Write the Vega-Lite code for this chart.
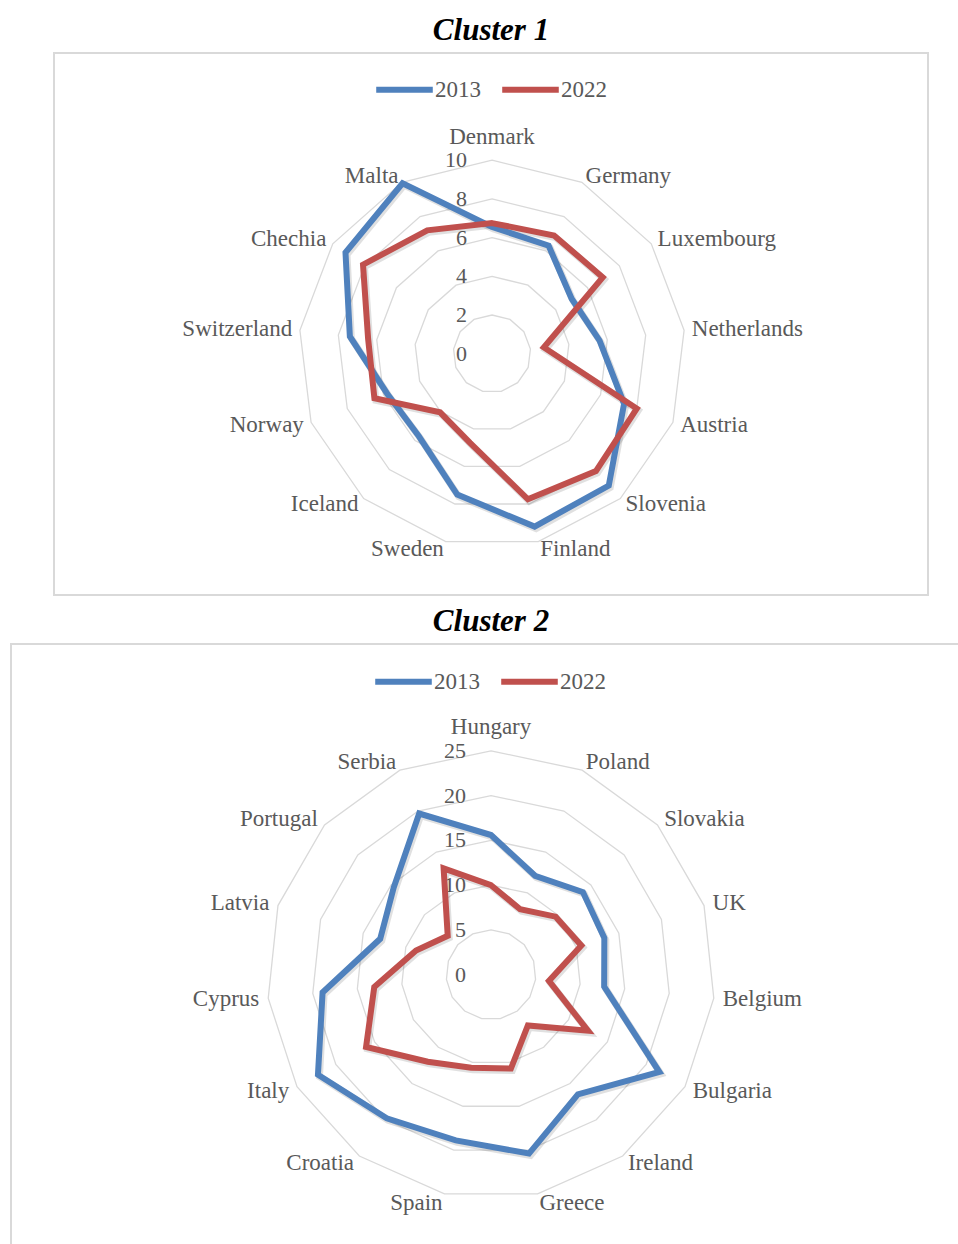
{
  "$schema": "https://vega.github.io/schema/vega-lite/v6.json",
  "padding": {"left": 10, "top": 14, "right": 0, "bottom": 0},
  "background": "white",
  "center": true,
  "spacing": 9,
  "datasets": {
    "c1": [
      {"c": "Denmark", "i": 0, "year": "2013", "v": 6.55},
      {"c": "Germany", "i": 1, "year": "2013", "v": 6.3},
      {"c": "Luxembourg", "i": 2, "year": "2013", "v": 5.0},
      {"c": "Netherlands", "i": 3, "year": "2013", "v": 5.6},
      {"c": "Austria", "i": 4, "year": "2013", "v": 7.3},
      {"c": "Slovenia", "i": 5, "year": "2013", "v": 9.1},
      {"c": "Finland", "i": 6, "year": "2013", "v": 9.2},
      {"c": "Sweden", "i": 7, "year": "2013", "v": 7.5},
      {"c": "Iceland", "i": 8, "year": "2013", "v": 5.7},
      {"c": "Norway", "i": 9, "year": "2013", "v": 5.8},
      {"c": "Switzerland", "i": 10, "year": "2013", "v": 7.4},
      {"c": "Chechia", "i": 11, "year": "2013", "v": 9.2},
      {"c": "Malta", "i": 12, "year": "2013", "v": 9.95},
      {"c": "Denmark", "i": 0, "year": "2022", "v": 6.75},
      {"c": "Germany", "i": 1, "year": "2022", "v": 6.9},
      {"c": "Luxembourg", "i": 2, "year": "2022", "v": 6.95},
      {"c": "Netherlands", "i": 3, "year": "2022", "v": 2.7},
      {"c": "Austria", "i": 4, "year": "2022", "v": 8.0},
      {"c": "Slovenia", "i": 5, "year": "2022", "v": 8.1},
      {"c": "Finland", "i": 6, "year": "2022", "v": 7.75},
      {"c": "Sweden", "i": 7, "year": "2022", "v": 4.75},
      {"c": "Iceland", "i": 8, "year": "2022", "v": 4.05},
      {"c": "Norway", "i": 9, "year": "2022", "v": 6.5},
      {"c": "Switzerland", "i": 10, "year": "2022", "v": 6.45},
      {"c": "Chechia", "i": 11, "year": "2022", "v": 8.1},
      {"c": "Malta", "i": 12, "year": "2022", "v": 7.2}
    ],
    "c2": [
      {"c": "Hungary", "i": 0, "year": "2013", "v": 15.6},
      {"c": "Poland", "i": 1, "year": "2013", "v": 12.1},
      {"c": "Slovakia", "i": 2, "year": "2013", "v": 13.8},
      {"c": "UK", "i": 3, "year": "2013", "v": 13.3},
      {"c": "Belgium", "i": 4, "year": "2013", "v": 12.7},
      {"c": "Bulgaria", "i": 5, "year": "2013", "v": 21.7},
      {"c": "Ireland", "i": 6, "year": "2013", "v": 16.5},
      {"c": "Greece", "i": 7, "year": "2013", "v": 20.4},
      {"c": "Spain", "i": 8, "year": "2013", "v": 18.9},
      {"c": "Croatia", "i": 9, "year": "2013", "v": 19.8},
      {"c": "Italy", "i": 10, "year": "2013", "v": 22.3},
      {"c": "Cyprus", "i": 11, "year": "2013", "v": 18.9},
      {"c": "Latvia", "i": 12, "year": "2013", "v": 13.0},
      {"c": "Portugal", "i": 13, "year": "2013", "v": 14.6},
      {"c": "Serbia", "i": 14, "year": "2013", "v": 19.7},
      {"c": "Hungary", "i": 0, "year": "2022", "v": 10.0},
      {"c": "Poland", "i": 1, "year": "2022", "v": 8.0},
      {"c": "Slovakia", "i": 2, "year": "2022", "v": 9.7},
      {"c": "UK", "i": 3, "year": "2022", "v": 10.6},
      {"c": "Belgium", "i": 4, "year": "2022", "v": 6.5},
      {"c": "Bulgaria", "i": 5, "year": "2022", "v": 12.5},
      {"c": "Ireland", "i": 6, "year": "2022", "v": 7.0},
      {"c": "Greece", "i": 7, "year": "2022", "v": 10.7},
      {"c": "Spain", "i": 8, "year": "2022", "v": 10.6},
      {"c": "Croatia", "i": 9, "year": "2022", "v": 12.0},
      {"c": "Italy", "i": 10, "year": "2022", "v": 16.1},
      {"c": "Cyprus", "i": 11, "year": "2022", "v": 13.1},
      {"c": "Latvia", "i": 12, "year": "2022", "v": 8.8},
      {"c": "Portugal", "i": 13, "year": "2022", "v": 6.5},
      {"c": "Serbia", "i": 14, "year": "2022", "v": 13.0}
    ]
  },
  "config": {
    "view": {"stroke": "#d9d9d9", "strokeWidth": 2},
    "title": {"font": "Liberation Serif", "fontSize": 31, "fontStyle": "italic", "fontWeight": "bold", "color": "#000000", "anchor": "middle", "offset": 6},
    "text": {"font": "Liberation Serif", "color": "#595959"},
    "legend": {
      "orient": "none", "direction": "horizontal", "title": null,
      "symbolType": "stroke", "symbolSize": 3200, "symbolStrokeWidth": 6,
      "labelFont": "Liberation Serif", "labelFontSize": 23, "labelColor": "#595959",
      "labelOffset": -1, "columnPadding": 9, "padding": 0
    }
  },
  "resolve": {
    "scale": {"x": "independent", "y": "independent", "color": "independent"},
    "legend": {"color": "independent"}
  },
  "vconcat": [
    {
      "width": 874,
      "height": 542,
      "title": {"text": "Cluster 1"},
      "layer": [
        {
          "data": {"name": "c1"},
          "transform": [
            {"filter": "datum.year == '2013'"},
            {"calculate": "datum.i * 2 * PI / 13", "as": "a"},
            {"calculate": "[2, 4, 6, 8, 10]", "as": "lv"},
            {"flatten": ["lv"]},
            {"calculate": "datum.lv * sin(datum.a)", "as": "gx"},
            {"calculate": "datum.lv * cos(datum.a)", "as": "gy"}
          ],
          "mark": {"type": "line", "interpolate": "linear-closed", "color": "#d9d9d9", "strokeWidth": 1.3},
          "encoding": {
            "x": {"field": "gx", "type": "quantitative", "scale": {"domain": [-22.636, 22.532], "nice": false, "zero": false}, "axis": null},
            "y": {"field": "gy", "type": "quantitative", "scale": {"domain": [-12.47, 15.54], "nice": false, "zero": false}, "axis": null},
            "detail": {"field": "lv", "type": "nominal"},
            "order": {"field": "i", "type": "quantitative"}
          }
        },
        {
          "data": {"values": [{"t": 0}, {"t": 2}, {"t": 4}, {"t": 6}, {"t": 8}, {"t": 10}]},
          "mark": {"type": "text", "align": "right", "baseline": "middle", "dx": -25, "fontSize": 22},
          "encoding": {
            "x": {"datum": 0, "type": "quantitative"},
            "y": {"field": "t", "type": "quantitative"},
            "text": {"field": "t", "type": "quantitative"}
          }
        },
        {
          "data": {"name": "c1"},
          "transform": [
            {"filter": "datum.year == '2013' && datum.i == 0"},
            {"calculate": "datum.i * 2 * PI / 13", "as": "a"},
            {"calculate": "10.4 * sin(datum.a)", "as": "lx"},
            {"calculate": "10.4 * cos(datum.a)", "as": "ly"}
          ],
          "mark": {"type": "text", "align": "center", "baseline": "middle", "dy": -15, "fontSize": 23},
          "encoding": {
            "x": {"field": "lx", "type": "quantitative"},
            "y": {"field": "ly", "type": "quantitative"},
            "text": {"field": "c", "type": "nominal"}
          }
        },
        {
          "data": {"name": "c1"},
          "transform": [
            {"filter": "datum.year == '2013' && datum.i > 0 && datum.i < 6.5"},
            {"calculate": "datum.i * 2 * PI / 13", "as": "a"},
            {"calculate": "10.4 * sin(datum.a)", "as": "lx"},
            {"calculate": "10.4 * cos(datum.a)", "as": "ly"}
          ],
          "mark": {"type": "text", "align": "left", "baseline": "middle", "fontSize": 23},
          "encoding": {
            "x": {"field": "lx", "type": "quantitative"},
            "y": {"field": "ly", "type": "quantitative"},
            "text": {"field": "c", "type": "nominal"}
          }
        },
        {
          "data": {"name": "c1"},
          "transform": [
            {"filter": "datum.year == '2013' && datum.i > 6.5"},
            {"calculate": "datum.i * 2 * PI / 13", "as": "a"},
            {"calculate": "10.4 * sin(datum.a)", "as": "lx"},
            {"calculate": "10.4 * cos(datum.a)", "as": "ly"}
          ],
          "mark": {"type": "text", "align": "right", "baseline": "middle", "fontSize": 23},
          "encoding": {
            "x": {"field": "lx", "type": "quantitative"},
            "y": {"field": "ly", "type": "quantitative"},
            "text": {"field": "c", "type": "nominal"}
          }
        },
        {
          "data": {"name": "c1"},
          "transform": [
            {"calculate": "datum.i * 2 * PI / 13", "as": "a"},
            {"calculate": "datum.v * sin(datum.a)", "as": "px"},
            {"calculate": "datum.v * cos(datum.a)", "as": "py"}
          ],
          "mark": {"type": "line", "interpolate": "linear-closed", "strokeWidth": 7, "color": "#000000", "opacity": 0.12, "xOffset": 1.5, "yOffset": 2},
          "encoding": {
            "x": {"field": "px", "type": "quantitative"},
            "y": {"field": "py", "type": "quantitative"},
            "detail": {"field": "year", "type": "nominal"},
            "order": {"field": "i", "type": "quantitative"}
          }
        },
        {
          "data": {"name": "c1"},
          "transform": [
            {"calculate": "datum.i * 2 * PI / 13", "as": "a"},
            {"calculate": "datum.v * sin(datum.a)", "as": "px"},
            {"calculate": "datum.v * cos(datum.a)", "as": "py"}
          ],
          "mark": {"type": "line", "interpolate": "linear-closed", "strokeWidth": 6, "strokeJoin": "miter"},
          "encoding": {
            "x": {"field": "px", "type": "quantitative"},
            "y": {"field": "py", "type": "quantitative"},
            "color": {
              "field": "year", "type": "nominal",
              "scale": {"domain": ["2013", "2022"], "range": ["#4F81BD", "#C0504D"]},
              "legend": {"legendX": 319, "legendY": 5, "labelFont": "Liberation Serif", "labelFontSize": 23}
            },
            "order": {"field": "i", "type": "quantitative"}
          }
        }
      ]
    },
    {
      "width": 960,
      "height": 620,
      "title": {"text": "Cluster 2"},
      "layer": [
        {
          "data": {"name": "c2"},
          "transform": [
            {"filter": "datum.year == '2013'"},
            {"calculate": "datum.i * 2 * PI / 15", "as": "a"},
            {"calculate": "[5, 10, 15, 20, 25]", "as": "lv"},
            {"flatten": ["lv"]},
            {"calculate": "datum.lv * sin(datum.a)", "as": "gx"},
            {"calculate": "datum.lv * cos(datum.a)", "as": "gy"}
          ],
          "mark": {"type": "line", "interpolate": "linear-closed", "color": "#d9d9d9", "strokeWidth": 1.3},
          "encoding": {
            "x": {"field": "gx", "type": "quantitative", "scale": {"domain": [-53.57, 53.57], "nice": false, "zero": false}, "axis": null},
            "y": {"field": "gy", "type": "quantitative", "scale": {"domain": [-32.28, 36.92], "nice": false, "zero": false}, "axis": null},
            "detail": {"field": "lv", "type": "nominal"},
            "order": {"field": "i", "type": "quantitative"}
          }
        },
        {
          "data": {"values": [{"t": 0}, {"t": 5}, {"t": 10}, {"t": 15}, {"t": 20}, {"t": 25}]},
          "mark": {"type": "text", "align": "right", "baseline": "middle", "dx": -25, "fontSize": 22},
          "encoding": {
            "x": {"datum": 0, "type": "quantitative"},
            "y": {"field": "t", "type": "quantitative"},
            "text": {"field": "t", "type": "quantitative"}
          }
        },
        {
          "data": {"name": "c2"},
          "transform": [
            {"filter": "datum.year == '2013' && datum.i == 0"},
            {"calculate": "datum.i * 2 * PI / 15", "as": "a"},
            {"calculate": "26 * sin(datum.a)", "as": "lx"},
            {"calculate": "26 * cos(datum.a)", "as": "ly"}
          ],
          "mark": {"type": "text", "align": "center", "baseline": "middle", "dy": -15, "fontSize": 23},
          "encoding": {
            "x": {"field": "lx", "type": "quantitative"},
            "y": {"field": "ly", "type": "quantitative"},
            "text": {"field": "c", "type": "nominal"}
          }
        },
        {
          "data": {"name": "c2"},
          "transform": [
            {"filter": "datum.year == '2013' && datum.i > 0 && datum.i < 7.5"},
            {"calculate": "datum.i * 2 * PI / 15", "as": "a"},
            {"calculate": "26 * sin(datum.a)", "as": "lx"},
            {"calculate": "26 * cos(datum.a)", "as": "ly"}
          ],
          "mark": {"type": "text", "align": "left", "baseline": "middle", "fontSize": 23},
          "encoding": {
            "x": {"field": "lx", "type": "quantitative"},
            "y": {"field": "ly", "type": "quantitative"},
            "text": {"field": "c", "type": "nominal"}
          }
        },
        {
          "data": {"name": "c2"},
          "transform": [
            {"filter": "datum.year == '2013' && datum.i > 7.5"},
            {"calculate": "datum.i * 2 * PI / 15", "as": "a"},
            {"calculate": "26 * sin(datum.a)", "as": "lx"},
            {"calculate": "26 * cos(datum.a)", "as": "ly"}
          ],
          "mark": {"type": "text", "align": "right", "baseline": "middle", "fontSize": 23},
          "encoding": {
            "x": {"field": "lx", "type": "quantitative"},
            "y": {"field": "ly", "type": "quantitative"},
            "text": {"field": "c", "type": "nominal"}
          }
        },
        {
          "data": {"name": "c2"},
          "transform": [
            {"calculate": "datum.i * 2 * PI / 15", "as": "a"},
            {"calculate": "datum.v * sin(datum.a)", "as": "px"},
            {"calculate": "datum.v * cos(datum.a)", "as": "py"}
          ],
          "mark": {"type": "line", "interpolate": "linear-closed", "strokeWidth": 7, "color": "#000000", "opacity": 0.12, "xOffset": 1.5, "yOffset": 2},
          "encoding": {
            "x": {"field": "px", "type": "quantitative"},
            "y": {"field": "py", "type": "quantitative"},
            "detail": {"field": "year", "type": "nominal"},
            "order": {"field": "i", "type": "quantitative"}
          }
        },
        {
          "data": {"name": "c2"},
          "transform": [
            {"calculate": "datum.i * 2 * PI / 15", "as": "a"},
            {"calculate": "datum.v * sin(datum.a)", "as": "px"},
            {"calculate": "datum.v * cos(datum.a)", "as": "py"}
          ],
          "mark": {"type": "line", "interpolate": "linear-closed", "strokeWidth": 6, "strokeJoin": "miter"},
          "encoding": {
            "x": {"field": "px", "type": "quantitative"},
            "y": {"field": "py", "type": "quantitative"},
            "color": {
              "field": "year", "type": "nominal",
              "scale": {"domain": ["2013", "2022"], "range": ["#4F81BD", "#C0504D"]},
              "legend": {"legendX": 361, "legendY": 6, "labelFont": "Liberation Serif", "labelFontSize": 23}
            },
            "order": {"field": "i", "type": "quantitative"}
          }
        }
      ]
    }
  ]
}
